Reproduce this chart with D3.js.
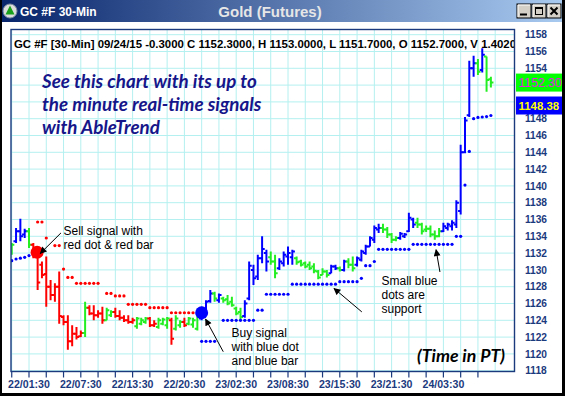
<!DOCTYPE html>
<head>
  <meta charset="utf-8">
  <title>GC #F 30-Min</title>
  <script src="https://d3js.org/d3.v7.min.js"></script>
  <style>
    body { margin: 0; background: #000; }
    svg { display: block; }
    .arial { font-family: "Liberation Sans", Arial, sans-serif; }
  </style>
</head>
<body>
<svg id="chart" width="565" height="396"></svg>
<script>
  // ---- data ----
  var firstBar = -4;   // bar index of the first bar; index 0 = 22/01:30
  var barOpen = [1132.0,1133.4,1134.6,1134.2,1134.6,1133.0,1131.8,1130.6,1129.5,1128.0,1127.0,1128.0,1124.4,1123.8,1121.5,1122.4,
    1122.1,1122.5,1125.5,1124.8,1124.6,1124.8,1124.0,1124.6,1125.0,1124.5,1124.3,1124.0,1123.8,1123.3,1123.6,1123.8,
    1124.2,1123.4,1123.2,1123.6,1123.4,1124.0,1123.0,1123.4,1123.8,1123.6,1123.5,1123.0,1124.2,1125.2,1126.3,1127.2,
    1126.4,1126.6,1126.5,1126.2,1125.4,1125.0,1124.5,1126.6,1130.0,1129.2,1131.4,1132.0,1131.5,1131.0,1130.2,1130.8,
    1131.6,1131.5,1131.4,1131.0,1130.8,1130.6,1130.4,1129.8,1129.4,1129.8,1129.6,1130.4,1130.2,1130.0,1131.0,1130.6,
    1130.6,1131.2,1132.0,1132.8,1133.6,1134.8,1135.0,1134.8,1134.2,1133.6,1133.8,1134.0,1134.6,1136.0,1135.6,1135.4,
    1134.8,1134.9,1134.2,1134.0,1134.6,1135.0,1135.2,1135.4,1137.0,1144.0,1148.4,1154.0,1154.6,1153.8,1155.4,1152.7];
  var barHigh = [1133.2,1135.0,1136.1,1134.9,1135.0,1133.2,1132.4,1131.0,1131.6,1128.8,1128.4,1129.8,1124.6,1124.6,1123.4,1123.2,
    1122.8,1126.2,1125.8,1125.8,1125.2,1125.6,1125.5,1125.2,1125.5,1125.2,1124.6,1124.6,1124.3,1124.4,1124.3,1124.4,
    1124.4,1124.0,1124.3,1124.3,1124.4,1124.3,1124.6,1124.0,1124.3,1124.4,1124.3,1124.6,1125.6,1126.4,1127.6,1127.4,
    1127.2,1126.8,1127.0,1126.8,1125.6,1125.5,1126.4,1131.0,1130.6,1131.8,1134.0,1132.4,1132.2,1131.8,1131.4,1132.2,
    1132.8,1132.4,1131.6,1131.2,1131.0,1131.0,1130.8,1130.0,1130.2,1130.0,1130.6,1130.6,1130.4,1131.2,1131.4,1131.6,
    1131.6,1132.4,1133.0,1134.0,1135.3,1135.5,1135.5,1135.1,1134.4,1134.0,1134.5,1134.4,1136.8,1136.2,1136.2,1135.6,
    1135.3,1135.3,1134.7,1135.0,1135.6,1135.6,1135.9,1138.3,1144.9,1148.2,1154.9,1155.5,1155.1,1156.4,1155.4,1153.0];
  var barLow = [1131.8,1133.2,1133.4,1133.8,1132.6,1131.4,1127.6,1129.0,1125.6,1126.4,1126.2,1123.6,1123.4,1120.5,1120.9,1121.7,
    1122.0,1122.0,1124.6,1124.0,1124.3,1123.6,1124.0,1124.4,1124.3,1124.0,1123.8,1123.6,1123.6,1123.0,1123.4,1123.6,
    1123.2,1123.2,1123.0,1123.4,1123.0,1121.1,1122.8,1123.1,1123.2,1123.4,1123.1,1122.8,1124.0,1124.9,1126.1,1126.2,
    1126.1,1126.1,1125.8,1125.6,1124.6,1124.0,1124.3,1126.4,1128.2,1128.8,1130.8,1129.8,1130.6,1129.0,1130.0,1130.4,
    1130.6,1130.6,1130.6,1130.4,1130.2,1130.0,1129.6,1128.9,1129.4,1129.1,1129.6,1130.0,1129.8,1129.8,1130.2,1129.8,
    1130.4,1131.0,1131.8,1132.8,1133.2,1134.4,1134.4,1133.8,1133.2,1133.4,1133.6,1133.8,1134.5,1135.0,1135.0,1134.2,
    1134.5,1133.9,1133.6,1133.9,1134.5,1134.7,1134.7,1135.0,1136.6,1143.9,1148.2,1153.0,1153.2,1153.5,1151.2,1151.7];
  var barClose = [1133.0,1134.6,1134.0,1134.6,1133.0,1131.8,1128.5,1129.4,1128.0,1127.0,1128.0,1124.5,1123.8,1121.5,1122.4,1122.0,
    1122.5,1125.5,1124.8,1124.6,1124.8,1124.0,1125.2,1125.0,1124.5,1124.3,1124.0,1123.8,1124.0,1124.2,1124.0,1124.2,
    1123.4,1123.6,1124.0,1124.1,1124.2,1121.8,1124.2,1123.8,1123.4,1124.2,1124.0,1124.5,1125.4,1126.2,1127.2,1126.6,
    1127.0,1126.4,1126.0,1125.8,1124.8,1124.4,1126.0,1130.5,1129.0,1131.4,1132.5,1131.0,1131.0,1129.6,1131.0,1131.8,
    1132.0,1132.2,1130.9,1130.6,1130.4,1130.2,1129.9,1129.1,1129.8,1129.4,1130.4,1130.2,1130.0,1131.0,1130.6,1130.2,
    1131.4,1132.2,1132.8,1133.8,1135.0,1135.0,1134.8,1134.2,1133.6,1133.8,1134.3,1134.2,1136.2,1135.4,1135.4,1134.6,
    1134.9,1134.2,1134.0,1134.6,1135.2,1135.4,1135.6,1138.0,1144.0,1147.8,1154.0,1154.6,1153.6,1155.6,1152.6,1152.3];
  // b = up (blue), g = pause (green), r = down (red)
  var barTrend = ("gbbbg" + "rrrrrrrrrrrr" + "g" + "rrrr" + "gg" + "rrrrr" + "ggg" + "rr" + "ggg" + "r" + "gg" + "r" +
    "ggg" + "bbb" + "g" + "b" + "ggggg" + "bbbbbb" + "gg" + "bbbb" + "gggggggg" + "bb" + "g" + "b" + "gg" +
    "bbbbbb" + "gggg" + "bbbb" + "gggggg" + "bbbbbbbb" + "g" + "b" + "gg").split("");

  // small dots: [bar index, price]
  var supportDots = [[-4,1131.1],[-3,1131.3],[-2,1131.4],[-1,1131.5],[0,1131.7],
    [40,1121.5],[41,1121.5],[42,1121.5],[43,1121.5],
    [45,1124.0],[46,1124.0],[47,1124.0],[48,1124.0],[49,1124.0],[50,1124.0],[51,1124.0],[52,1124.0],
    [53,1125.2],[54,1125.2],
    [55,1127.1],[56,1127.1],[57,1127.1],[58,1127.1],[59,1127.1],[60,1127.1],
    [61,1128.3],[62,1128.3],[63,1128.3],[64,1128.3],[65,1128.3],[66,1128.3],[67,1128.3],[68,1128.3],[69,1128.3],[70,1128.3],[71,1128.3],
    [72,1128.6],[73,1128.6],[74,1128.6],[75,1128.6],[76,1128.6],[77,1129.0],
    [78,1130.5],[79,1130.5],[80,1131.0],
    [81,1132.45],[82,1132.45],[83,1132.45],[84,1132.45],[85,1132.45],[86,1132.45],[87,1132.45],[88,1132.45],
    [89,1133.05],[90,1133.05],[91,1133.05],[92,1133.05],[93,1133.05],[94,1133.05],[95,1133.05],[96,1133.05],[97,1133.05],[98,1133.05],
    [99,1134.0],[100,1134.0],[101,1140.1],[102,1144.1],
    [103,1148.0],[104,1148.15],[105,1148.2],[106,1148.25],[107,1148.38]];
  var resistDots = [[2,1135.7],[3,1135.7],[4,1133.8],[6,1132.9],[7,1132.9],[8,1130.1],[9,1129.1],[10,1129.1],
    [11,1128.4],[12,1128.4],[13,1128.4],[14,1128.4],[15,1128.4],[16,1128.4],
    [18,1127.2],[19,1127.2],[20,1126.9],[21,1126.9],[22,1126.9],
    [23,1125.9],[24,1125.9],[25,1125.9],[26,1125.9],[27,1125.9],
    [28,1125.5],[29,1125.5],[30,1125.5],[31,1125.5],[32,1125.5],
    [33,1124.9],[34,1124.9],[35,1124.9],[36,1124.9],[37,1124.9],[38,1124.9]];
  var sellSignal = [2, 1132.1];
  var buySignal = [40, 1124.9];

  var xLabels = ["22/01:30","22/07:30","22/13:30","22/20:30","23/02:30","23/08:30","23/15:30","23/21:30","24/03:30"];
  var xLabelIdx = [0,12,24,36,48,60,72,84,96];
  var xTickIdx = d3.range(-4, 105, 4);
  var xGridIdx = d3.range(-4, 109, 4);
  var yTicks = [1118,1120,1122,1124,1126,1128,1130,1132,1134,1136,1138,1140,1142,1144,1146,1148,1150,1152,1154,1156,1158];

  var lastClose = 1152.30, lastSupport = 1148.38;
  var header = "GC #F [30-Min] 09/24/15  -0.3000 C 1152.3000, H 1153.0000, L 1151.7000, O 1152.7000, V 1.4020";

  // arrows: [from, tip] in [bar index, price]
  var arrows = [
    [[7.4,1134.4],[2.6,1131.95]],
    [[45.0,1120.26],[40.9,1124.15]],
    [[77.1,1125.0],[70.65,1127.8]],
    [[95.2,1129.75],[94.3,1132.4]]
  ];

  // ---- layout ----
  var W = 565, H = 396;
  var plot = {left: 11, top: 29.5, right: 514.5, bottom: 371.5};
  var x = d3.scaleLinear().domain([0, 96]).range([29, 443.4]);
  var y = d3.scaleLinear().domain([1118, 1158]).range([370.7, 34.7]);
  var colors = {b: "#0000ff", g: "#22ee22", r: "#ff0000"};
  var navy = "#1b3a7e";

  var svg = d3.select("#chart");
  var defs = svg.append("defs");
  var grad = defs.append("linearGradient").attr("id", "titlebar");
  grad.append("stop").attr("offset", "0%").attr("stop-color", "#08246b");
  grad.append("stop").attr("offset", "100%").attr("stop-color", "#a8caf0");
  var arrowHead = defs.append("marker").attr("id", "arrowhead")
    .attr("viewBox", "0 0 10 10").attr("refX", 9).attr("refY", 5)
    .attr("markerWidth", 8).attr("markerHeight", 7).attr("markerUnits", "userSpaceOnUse")
    .attr("orient", "auto");
  arrowHead.append("path").attr("d", "M0,0 L10,5 L0,10 z").attr("fill", "#000");
  defs.append("clipPath").attr("id", "plotclip").append("rect")
    .attr("x", plot.left).attr("y", plot.top)
    .attr("width", plot.right - plot.left).attr("height", plot.bottom - plot.top);

  // window
  svg.append("rect").attr("width", W).attr("height", H).attr("fill", "#000");
  svg.append("rect").attr("x", 2).attr("y", 0).attr("width", W - 5).attr("height", H - 3).attr("fill", "#fff");
  svg.append("rect").attr("x", 2).attr("y", 0).attr("width", W - 5).attr("height", 22).attr("fill", "url(#titlebar)");

  // title bar icon + texts + buttons
  svg.append("circle").attr("cx", 10).attr("cy", 11).attr("r", 7).attr("fill", "#dcdcdc").attr("stroke", "#7a8aa0");
  svg.append("path").attr("d", "M10,5.5 L14.5,14.5 L5.5,14.5 z").attr("fill", "#1aa01a");
  svg.append("text").attr("class", "arial").attr("x", 20).attr("y", 16)
    .attr("font-size", 12).attr("font-weight", "bold").attr("fill", "#fff").text("GC #F 30-Min");
  svg.append("text").attr("class", "arial").attr("x", 270).attr("y", 16.5).attr("text-anchor", "middle")
    .attr("font-size", 15).attr("font-weight", "bold").attr("fill", "#e6e6e6").text("Gold (Futures)");
  var buttons = ["min", "max", "close"];
  buttons.forEach(function(b, k) {
    var bx = 517 + k * 15, by = 4;
    svg.append("rect").attr("x", bx).attr("y", by).attr("width", 14).attr("height", 14)
      .attr("fill", "#d4d0c8").attr("stroke", "#000").attr("stroke-width", 1);
    svg.append("path").attr("d", "M" + (bx + 1) + "," + (by + 13) + " V" + (by + 1) + " H" + (bx + 13))
      .attr("fill", "none").attr("stroke", "#fff");
    if (b === "min") {
      svg.append("rect").attr("x", bx + 3).attr("y", by + 9.5).attr("width", 7).attr("height", 2).attr("fill", "#000");
    } else if (b === "max") {
      svg.append("rect").attr("x", bx + 3.5).attr("y", by + 3.5).attr("width", 7).attr("height", 7)
        .attr("fill", "none").attr("stroke", "#000").attr("stroke-width", 1);
      svg.append("rect").attr("x", bx + 3).attr("y", by + 3).attr("width", 8).attr("height", 2).attr("fill", "#000");
    } else {
      svg.append("path").attr("d", "M" + (bx + 3.5) + "," + (by + 3.5) + " L" + (bx + 10.5) + "," + (by + 10.5) +
        " M" + (bx + 10.5) + "," + (by + 3.5) + " L" + (bx + 3.5) + "," + (by + 10.5))
        .attr("stroke", "#000").attr("stroke-width", 2);
    }
  });

  // grid
  var grid = svg.append("g").attr("clip-path", "url(#plotclip)");
  grid.selectAll(".hgrid").data(yTicks).enter().append("line")
    .attr("x1", plot.left).attr("x2", plot.right)
    .attr("y1", function(d) { return y(d); }).attr("y2", function(d) { return y(d); })
    .attr("stroke", "#b4f0f0").attr("stroke-width", 1);
  grid.selectAll(".vgrid").data(xGridIdx).enter().append("line")
    .attr("x1", function(d) { return x(d); }).attr("x2", function(d) { return x(d); })
    .attr("y1", plot.top).attr("y2", plot.bottom)
    .attr("stroke", "#b4f0f0").attr("stroke-width", 1);

  // header text, fitted to the plot width
  var head = svg.append("text").attr("class", "arial").attr("clip-path", "url(#plotclip)")
    .attr("x", 14).attr("y", 48).attr("font-size", 11).attr("font-weight", "bold").attr("fill", "#000").text(header);
  var hl = head.node().getComputedTextLength();
  head.attr("font-size", 11 * 503 / hl);

  // bars
  var bars = [];
  for (var k = 0; k < barOpen.length; k++) {
    bars.push({i: firstBar + k, o: barOpen[k], h: barHigh[k], l: barLow[k], c: barClose[k], t: barTrend[k]});
  }
  var layer = svg.append("g").attr("clip-path", "url(#plotclip)");
  layer.selectAll(".bar").data(bars).enter().append("path")
    .attr("class", "bar")
    .attr("d", function(d) {
      var bx = x(d.i);
      return "M" + bx + "," + y(d.h) + "V" + y(d.l) +
        "M" + (bx - 2.6) + "," + y(d.o) + "H" + bx +
        "M" + bx + "," + y(d.c) + "H" + (bx + 2.6);
    })
    .attr("fill", "none")
    .attr("stroke", function(d) { return colors[d.t]; })
    .attr("stroke-width", 2);

  layer.selectAll(".sup").data(supportDots).enter().append("circle")
    .attr("cx", function(d) { return x(d[0]); }).attr("cy", function(d) { return y(d[1]); })
    .attr("r", 1.6).attr("fill", colors.b);
  layer.selectAll(".res").data(resistDots).enter().append("circle")
    .attr("cx", function(d) { return x(d[0]); }).attr("cy", function(d) { return y(d[1]); })
    .attr("r", 1.6).attr("fill", colors.r);

  layer.append("circle").attr("cx", x(sellSignal[0]) - 0.5).attr("cy", y(sellSignal[1])).attr("r", 6.5).attr("fill", colors.r);
  layer.append("circle").attr("cx", x(buySignal[0])).attr("cy", y(buySignal[1])).attr("r", 6.5).attr("fill", colors.b);

  // plot frame
  svg.append("rect").attr("x", plot.left).attr("y", plot.top)
    .attr("width", plot.right - plot.left).attr("height", plot.bottom - plot.top)
    .attr("fill", "none").attr("stroke", navy).attr("stroke-width", 1.4);

  // x axis
  svg.selectAll(".xtick").data(xTickIdx).enter().append("line")
    .attr("x1", function(d) { return x(d); }).attr("x2", function(d) { return x(d); })
    .attr("y1", plot.bottom).attr("y2", plot.bottom + 6)
    .attr("stroke", navy).attr("stroke-width", 1.2);
  svg.selectAll(".xlab").data(xLabels).enter().append("text")
    .attr("class", "arial")
    .attr("x", function(d, k) { return x(xLabelIdx[k]); }).attr("y", 388)
    .attr("text-anchor", "middle").attr("font-size", 10.6).attr("font-weight", "bold")
    .attr("fill", navy).text(function(d) { return d; });

  // last price tags
  var tagH = 18;
  var gy = y(lastClose);
  var by2 = y(lastSupport) - 10;
  var tagCenters = [gy, by2];

  // y axis (right); labels hidden behind a tag are left out
  svg.selectAll(".ylab").data(yTicks.filter(function(v) {
      return tagCenters.every(function(c) { return Math.abs(y(v) - c) > tagH / 2 + 1; });
    })).enter().append("text")
    .attr("class", "arial")
    .attr("x", 536).attr("y", function(d) { return y(d) + 3.7; })
    .attr("text-anchor", "middle").attr("font-size", 10.2).attr("font-weight", "bold")
    .attr("fill", navy).text(function(d) { return d; });

  svg.append("rect").attr("x", 516).attr("y", gy - tagH / 2).attr("width", 46).attr("height", tagH).attr("fill", "#00ff00");
  svg.append("text").attr("class", "arial").attr("x", 518.5).attr("y", gy + 4.4)
    .attr("font-size", 12.2).attr("fill", "#e020e0").text(lastClose.toFixed(2));
  svg.append("rect").attr("x", 516).attr("y", by2 - tagH / 2).attr("width", 46).attr("height", tagH).attr("fill", "#0000ff");
  svg.append("text").attr("class", "arial").attr("x", 518.5).attr("y", by2 + 4.4)
    .attr("font-size", 11.4).attr("font-weight", "bold").attr("fill", "#ffff00").text(lastSupport.toFixed(2));
  // keep the window border over the tags
  svg.append("rect").attr("x", W - 3).attr("y", 0).attr("width", 3).attr("height", H).attr("fill", "#000");

  // promo text
  var promo = ["See this chart with its up to", "the minute real-time signals", "with AbleTrend"];
  var promoText = svg.selectAll(".promo").data(promo).enter().append("text")
    .attr("x", 42).attr("y", function(d, k) { return 88 + k * 23; })
    .attr("font-family", "Lato, 'Open Sans', sans-serif").attr("font-size", 17)
    .attr("font-weight", "bold").attr("font-style", "italic").attr("fill", "#16168a")
    .text(function(d) { return d; });
  var pl = promoText.nodes()[0].getComputedTextLength();
  promoText.attr("font-size", 17 * 215 / pl);

  var timeText = svg.append("text").attr("x", 417).attr("y", 362)
    .attr("font-family", "Lato, 'Open Sans', sans-serif").attr("font-size", 19)
    .attr("font-weight", "bold").attr("font-style", "italic").attr("fill", "#000").text("(Time in PT)");
  var tl = timeText.node().getComputedTextLength();
  timeText.attr("font-size", 19 * 88 / tl);

  // annotations
  var notes = [
    {x: 63.5, y: 235, lines: ["Sell signal with", "red dot & red bar"]},
    {x: 231.5, y: 337, lines: ["Buy signal", "with blue dot", "and blue bar"]},
    {x: 381.5, y: 285, lines: ["Small blue", "dots are", "support"]}
  ];
  notes.forEach(function(n) {
    n.lines.forEach(function(line, k) {
      svg.append("text").attr("class", "arial").attr("x", n.x).attr("y", n.y + k * 14)
        .attr("font-size", 12).attr("fill", "#000").text(line);
    });
  });
  svg.selectAll(".arrow").data(arrows).enter().append("line")
    .attr("x1", function(d) { return x(d[0][0]); }).attr("y1", function(d) { return y(d[0][1]); })
    .attr("x2", function(d) { return x(d[1][0]); }).attr("y2", function(d) { return y(d[1][1]); })
    .attr("stroke", "#000").attr("stroke-width", 1)
    .attr("marker-end", "url(#arrowhead)");
</script>
</body>
</html>
